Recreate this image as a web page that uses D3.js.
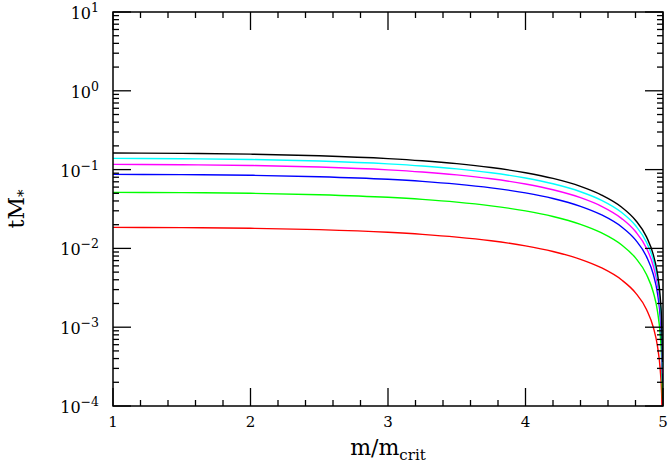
<!DOCTYPE html>
<html>
<head>
<meta charset="utf-8">
<script src="https://cdn.jsdelivr.net/npm/d3@7"></script>
<style>
  html, body { margin: 0; padding: 0; background: #fff; }
  svg { display: block; }
  text { font-family: "DejaVu Serif", "Liberation Serif", serif; fill: #000; }
</style>
</head>
<body>
<svg id="chart" width="669" height="463"></svg>
<script>
// ---- data ----
const mValues = [1, 1.5, 2, 2.5, 3, 3.25, 3.5, 3.75, 4, 4.2, 4.4, 4.55, 4.7, 4.8, 4.88, 4.93, 4.96, 4.98, 4.99, 4.997];
const blackSeries   = [0.1621, 0.1606, 0.1570, 0.1500, 0.1380, 0.1295, 0.1191, 0.1064, 0.0913, 0.0773, 0.0613, 0.0479, 0.0333, 0.0228, 0.0140, 0.00826, 0.00476, 0.00239, 0.00120, 0.000361];
const cyanSeries    = [0.1387, 0.1374, 0.1344, 0.1284, 0.1181, 0.1109, 0.1020, 0.0911, 0.0782, 0.0661, 0.0524, 0.0410, 0.0285, 0.0195, 0.01196, 0.00707, 0.00408, 0.00205, 0.00103, 0.000309];
const magentaSeries = [0.1165, 0.1154, 0.1128, 0.1078, 0.0992, 0.0931, 0.0856, 0.0765, 0.0656, 0.0555, 0.0440, 0.0344, 0.0239, 0.01636, 0.01004, 0.00593, 0.00342, 0.00172, 0.000862, 0.000259];
const blueSeries    = [0.0869, 0.0863, 0.0847, 0.0813, 0.0753, 0.0709, 0.0654, 0.0587, 0.0506, 0.0430, 0.0342, 0.0268, 0.01868, 0.01281, 0.00787, 0.00466, 0.00268, 0.00135, 0.000678, 0.000204];
const greenSeries   = [0.0514, 0.0510, 0.0501, 0.0480, 0.0445, 0.0419, 0.0387, 0.0347, 0.0299, 0.0254, 0.0202, 0.01585, 0.01105, 0.00758, 0.00466, 0.00276, 0.00159, 0.000798, 0.000401, 0.000121];
const redSeries     = [0.01849, 0.01836, 0.01801, 0.01729, 0.01601, 0.01508, 0.01392, 0.01249, 0.01077, 0.00914, 0.00727, 0.00570, 0.00397, 0.00273, 0.00168, 0.000991, 0.000571, 0.000287, 0.000144, 0.0000434];
const seriesColors = ["#000000", "#00ffff", "#ff00ff", "#0000ff", "#00ff00", "#ff0000"];
const xTickLabels = [1, 2, 3, 4, 5];
const yTickExponents = [-4, -3, -2, -1, 0, 1];

// ---- layout ----
const svg = d3.select("#chart");
const margin = { left: 113, right: 6, top: 12, bottom: 57 };
const W = 669, H = 463;
const x0 = margin.left, x1 = W - margin.right;
const y0 = margin.top, y1 = H - margin.bottom;

const x = d3.scaleLinear().domain([1, 5]).range([x0, x1]);
const y = d3.scaleLog().domain([1e-4, 10]).range([y1, y0]);

// clip
svg.append("defs").append("clipPath").attr("id", "plotclip")
  .append("rect").attr("x", x0).attr("y", y0).attr("width", x1 - x0).attr("height", y1 - y0);

// ---- curves ----
const allSeries = [blackSeries, cyanSeries, magentaSeries, blueSeries, greenSeries, redSeries];
const line = d3.line()
  .x(d => x(d[0]))
  .y(d => y(Math.max(d[1], 1e-6)))
  .curve(d3.curveMonotoneX);

const gLines = svg.append("g").attr("clip-path", "url(#plotclip)");
// draw red first so black ends on top
allSeries.slice().reverse().forEach((s, iRev) => {
  const i = allSeries.length - 1 - iRev;
  gLines.append("path")
    .attr("d", line(mValues.map((m, j) => [m, s[j]])))
    .attr("fill", "none")
    .attr("stroke", seriesColors[i])
    .attr("stroke-width", 1.4);
});

// ---- axes (ticks inward on all four sides) ----
const majorLen = 18, minorLen = 6;
const axisColor = "#000";
const gAx = svg.append("g").attr("stroke", axisColor).attr("stroke-width", 1.3);

const xMinor = d3.range(1, 5.0001, 0.2).map(v => +v.toFixed(2));
xMinor.forEach(v => {
  const isMajor = Math.abs(v - Math.round(v)) < 1e-6;
  const len = isMajor ? majorLen : minorLen;
  const px = x(v);
  gAx.append("line").attr("x1", px).attr("x2", px).attr("y1", y1).attr("y2", y1 - len);
  gAx.append("line").attr("x1", px).attr("x2", px).attr("y1", y0).attr("y2", y0 + len);
});

const yTicks = [];
for (let e = -4; e <= 0; e++) {
  for (let k = 1; k <= 9; k++) yTicks.push({ v: k * Math.pow(10, e), major: k === 1 });
}
yTicks.push({ v: 10, major: true });
yTicks.forEach(t => {
  const py = y(t.v);
  const len = t.major ? majorLen : minorLen;
  gAx.append("line").attr("x1", x0).attr("x2", x0 + len).attr("y1", py).attr("y2", py);
  gAx.append("line").attr("x1", x1).attr("x2", x1 - len).attr("y1", py).attr("y2", py);
});

// frame
svg.append("rect")
  .attr("x", x0).attr("y", y0).attr("width", x1 - x0).attr("height", y1 - y0)
  .attr("fill", "none").attr("stroke", axisColor).attr("stroke-width", 1.5);

// ---- tick labels ----
xTickLabels.forEach(v => {
  svg.append("text")
    .attr("x", x(v)).attr("y", y1 + 21)
    .attr("text-anchor", "middle")
    .style("font-size", "15px")
    .text(v);
});

yTickExponents.forEach(e => {
  const t = svg.append("text")
    .attr("x", x0 - 14).attr("y", y(Math.pow(10, e)) + 7)
    .attr("text-anchor", "end")
    .style("font-size", "16px");
  t.append("tspan").text("10");
  t.append("tspan").attr("dy", -7).style("font-size", "12.5px")
    .text(e < 0 ? "\u2212" + Math.abs(e) : String(e));
});

// ---- axis titles ----
const xt = svg.append("text")
  .attr("x", (x0 + x1) / 2).attr("y", 455)
  .attr("text-anchor", "middle")
  .style("font-size", "22px");
xt.append("tspan").text("m/m");
xt.append("tspan").attr("dy", 5).style("font-size", "15px").text("crit");

const yt = svg.append("text")
  .attr("transform", `translate(24, ${(y0 + y1) / 2}) rotate(-90)`)
  .attr("text-anchor", "middle")
  .style("font-size", "22px");
yt.append("tspan").text("tM");
yt.append("tspan").attr("dy", 4).style("font-size", "15px").text("*");
</script>
</body>
</html>
